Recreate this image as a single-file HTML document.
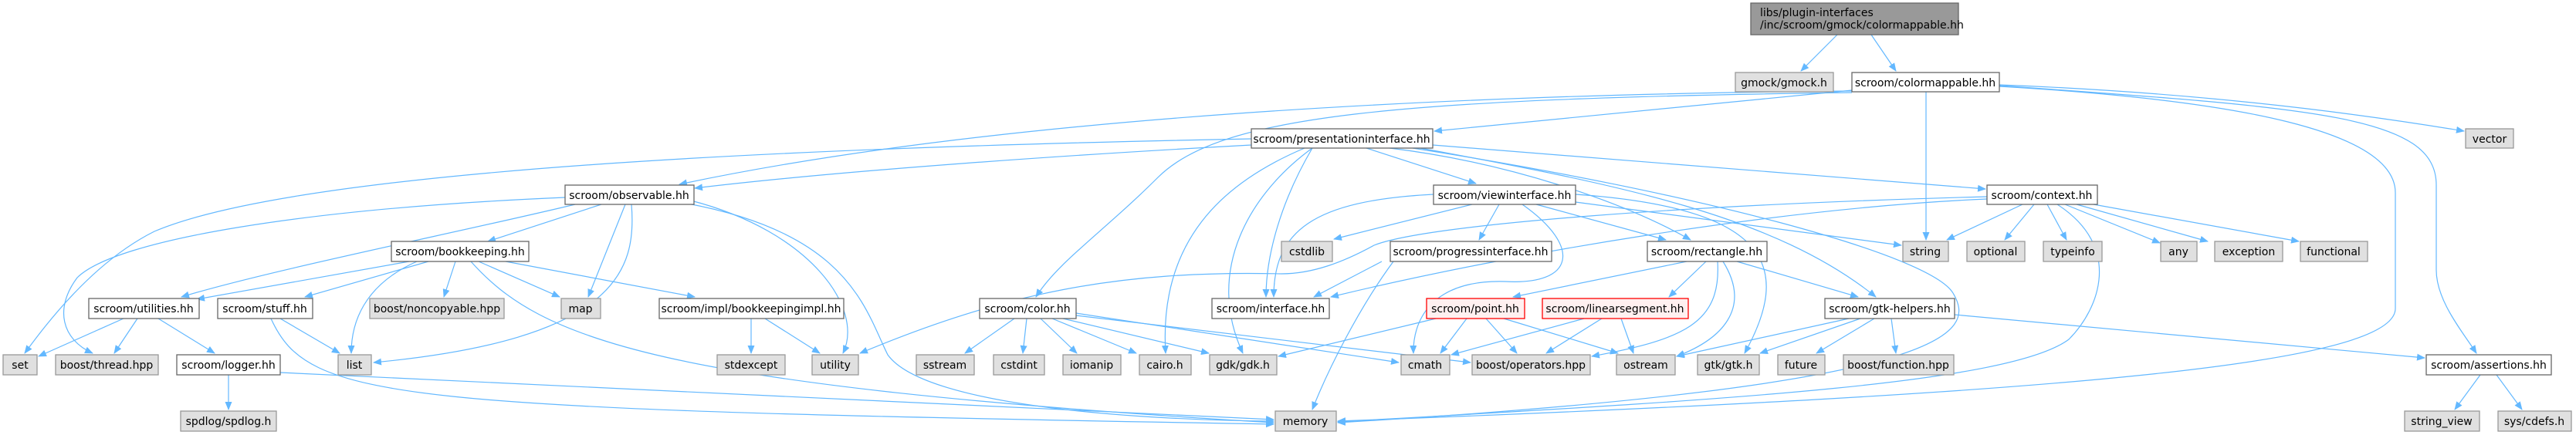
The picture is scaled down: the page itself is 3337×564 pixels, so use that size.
<!DOCTYPE html>
<html><head><meta charset="utf-8"><style>
html,body{margin:0;padding:0;background:#fff;}
svg{display:block;}
text{font-family:"DejaVu Sans","Liberation Sans",sans-serif;font-size:14px;fill:#000;}
.e{fill:none;stroke:#63b8ff;stroke-width:1.2;}
.w{fill:#fff;stroke:#666;stroke-width:1.3;}
.g{fill:#e0e0e0;stroke:#999;stroke-width:1.3;}
.r{fill:#fff0f0;stroke:#f00;stroke-width:1.3;}
</style></head><body>
<svg width="3337" height="564" viewBox="0 0 3337 564" xmlns="http://www.w3.org/2000/svg">
<defs><marker id="a" markerUnits="userSpaceOnUse" markerWidth="11" markerHeight="9" refX="10" refY="4.5" orient="auto"><path d="M0,0 L11,4.5 L0,9 z" fill="#63b8ff"/></marker></defs>
<g class="e" marker-end="url(#a)">
<path d="M2380,45 L2333,92"/>
<path d="M2424,45 L2456,92"/>
<path d="M2399,117 L1858,170"/>
<path d="M2399,118 C1900,122 1300,150 880,239"/>
<path d="M2399,120 C1800,128 1580,150 1500,230 C1430,300 1370,340 1342,385"/>
<path d="M2495,119 L2495,311"/>
<path d="M2590,110 C2800,118 3000,138 3192,170"/>
<path d="M2590,111 C3000,140 3156,150 3156,240 L3156,350 C3156,390 3190,430 3208,458"/>
<path d="M2590,112 C2900,130 3103,170 3103,250 L3103,400 C3103,470 2700,510 1733,546"/>
<path d="M1621,180 C1100,190 400,215 200,300 C120,340 60,420 32,458"/>
<path d="M1621,188 C1400,200 1100,220 900,244"/>
<path d="M1770,192 L1912,238"/>
<path d="M1700,192 C1660,260 1640,330 1640,385"/>
<path d="M1690,192 C1600,230 1500,300 1510,458"/>
<path d="M1700,192 C1620,250 1560,350 1610,458"/>
<path d="M1800,192 C1950,210 2100,260 2190,311"/>
<path d="M1856,188 L2572,245"/>
<path d="M1840,192 C2100,240 2300,280 2430,385"/>
<path d="M1830,192 C2200,250 2500,330 2530,380 C2560,430 2540,500 1733,548"/>
<path d="M1907,265 L1728,310"/>
<path d="M1942,265 L1916,311"/>
<path d="M1990,265 L2158,311"/>
<path d="M2041,262 L2463,318"/>
<path d="M1857,252 C1700,260 1650,300 1650,385"/>
<path d="M1972,265 C2050,320 2040,370 1950,365 C1850,362 1830,420 1831,458"/>
<path d="M2041,252 C2300,270 2320,350 2260,458"/>
<path d="M1790,339 L1702,385"/>
<path d="M1805,339 C1760,400 1720,480 1700,531"/>
<path d="M2185,339 L1960,385"/>
<path d="M2210,339 L2162,385"/>
<path d="M2250,339 L2407,385"/>
<path d="M2225,339 C2230,420 2180,440 2062,462"/>
<path d="M2232,339 C2270,400 2230,440 2172,462"/>
<path d="M1900,413 L1866,458"/>
<path d="M1925,413 L1965,458"/>
<path d="M1948,413 L2096,458"/>
<path d="M1860,413 L1656,462"/>
<path d="M2052,413 L1880,460"/>
<path d="M2075,413 L2003,458"/>
<path d="M2100,413 L2116,458"/>
<path d="M2395,413 L2172,462"/>
<path d="M2410,413 L2280,458"/>
<path d="M2428,413 L2353,458"/>
<path d="M2450,413 L2456,458"/>
<path d="M2532,408 L3141,464"/>
<path d="M3213,486 L3180,531"/>
<path d="M3234,486 L3267,531"/>
<path d="M2620,265 L2522,311"/>
<path d="M2635,265 L2597,311"/>
<path d="M2652,265 L2677,311"/>
<path d="M2675,265 L2798,315"/>
<path d="M2690,265 L2860,313"/>
<path d="M2712,265 L2978,313"/>
<path d="M2574,258 C2300,270 1950,330 1724,385"/>
<path d="M2574,255 C2200,265 1850,290 1780,318 C1740,340 1700,355 1660,355 C1450,350 1300,380 1114,458"/>
<path d="M2665,265 C2750,320 2720,400 2680,440 C2600,500 2200,520 1733,547"/>
<path d="M1314,413 L1250,458"/>
<path d="M1330,413 L1325,458"/>
<path d="M1348,413 L1395,458"/>
<path d="M1363,413 L1472,458"/>
<path d="M1377,413 L1566,458"/>
<path d="M1394,406 L1812,470"/>
<path d="M1394,409 L1905,470"/>
<path d="M779,265 L632,313"/>
<path d="M745,265 C600,300 350,350 235,385"/>
<path d="M732,256 C400,270 150,310 100,360 C70,400 80,440 120,458"/>
<path d="M810,265 L762,385"/>
<path d="M818,265 C825,350 800,440 484,470"/>
<path d="M880,262 C1100,300 1120,400 1150,460 C1200,530 1500,545 1650,546"/>
<path d="M895,260 C1050,300 1120,400 1092,458"/>
<path d="M530,339 L255,388"/>
<path d="M555,339 L395,385"/>
<path d="M590,339 L575,385"/>
<path d="M620,339 L725,385"/>
<path d="M540,339 C470,370 455,420 455,458"/>
<path d="M610,339 C700,440 850,500 1650,548"/>
<path d="M655,339 L900,385"/>
<path d="M973,413 L973,458"/>
<path d="M991,413 L1062,458"/>
<path d="M160,413 L50,462"/>
<path d="M178,413 L148,458"/>
<path d="M205,413 L278,458"/>
<path d="M363,413 L440,458"/>
<path d="M351,413 C400,520 500,530 1650,550"/>
<path d="M296,486 L296,531"/>
<path d="M363,483 L1650,544"/>
</g>

<rect x="2268" y="4" width="269" height="41" fill="#999" stroke="#666" stroke-width="1.3"/>
<text x="2280" y="21">libs/plugin-interfaces</text>
<text x="2280" y="37">/inc/scroom/gmock/colormappable.hh</text>

<g>
<rect class="g" x="2248" y="94" width="127" height="25"/><text x="2311" y="112" text-anchor="middle">gmock/gmock.h</text>
<rect class="w" x="2399" y="94" width="191" height="25"/><text x="2494" y="112" text-anchor="middle">scroom/colormappable.hh</text>
<rect class="w" x="1621" y="167" width="235" height="25"/><text x="1738" y="185" text-anchor="middle">scroom/presentationinterface.hh</text>
<rect class="g" x="3194" y="167" width="62" height="25"/><text x="3225" y="185" text-anchor="middle">vector</text>
<rect class="w" x="732" y="240" width="167" height="25"/><text x="815" y="258" text-anchor="middle">scroom/observable.hh</text>
<rect class="w" x="1857" y="240" width="184" height="25"/><text x="1949" y="258" text-anchor="middle">scroom/viewinterface.hh</text>
<rect class="w" x="2574" y="240" width="143" height="25"/><text x="2645" y="258" text-anchor="middle">scroom/context.hh</text>
<rect class="w" x="507" y="313" width="178" height="26"/><text x="596" y="331" text-anchor="middle">scroom/bookkeeping.hh</text>
<rect class="g" x="1660" y="313" width="66" height="26"/><text x="1693" y="331" text-anchor="middle">cstdlib</text>
<rect class="w" x="1801" y="313" width="209" height="26"/><text x="1905" y="331" text-anchor="middle">scroom/progressinterface.hh</text>
<rect class="w" x="2134" y="313" width="155" height="26"/><text x="2211" y="331" text-anchor="middle">scroom/rectangle.hh</text>
<rect class="g" x="2465" y="313" width="59" height="26"/><text x="2494" y="331" text-anchor="middle">string</text>
<rect class="g" x="2548" y="313" width="75" height="26"/><text x="2585" y="331" text-anchor="middle">optional</text>
<rect class="g" x="2647" y="313" width="76" height="26"/><text x="2685" y="331" text-anchor="middle">typeinfo</text>
<rect class="g" x="2799" y="313" width="47" height="26"/><text x="2822" y="331" text-anchor="middle">any</text>
<rect class="g" x="2869" y="313" width="88" height="26"/><text x="2913" y="331" text-anchor="middle">exception</text>
<rect class="g" x="2980" y="313" width="87" height="26"/><text x="3023" y="331" text-anchor="middle">functional</text>
<rect class="w" x="115" y="387" width="143" height="26"/><text x="186" y="405" text-anchor="middle">scroom/utilities.hh</text>
<rect class="w" x="282" y="387" width="123" height="26"/><text x="343" y="405" text-anchor="middle">scroom/stuff.hh</text>
<rect class="g" x="479" y="387" width="174" height="26"/><text x="566" y="405" text-anchor="middle">boost/noncopyable.hpp</text>
<rect class="g" x="727" y="387" width="51" height="26"/><text x="752" y="405" text-anchor="middle">map</text>
<rect class="w" x="854" y="387" width="239" height="26"/><text x="973" y="405" text-anchor="middle">scroom/impl/bookkeepingimpl.hh</text>
<rect class="w" x="1269" y="387" width="125" height="26"/><text x="1331" y="405" text-anchor="middle">scroom/color.hh</text>
<rect class="w" x="1570" y="387" width="152" height="26"/><text x="1646" y="405" text-anchor="middle">scroom/interface.hh</text>
<rect class="r" x="1848" y="387" width="127" height="26"/><text x="1911" y="405" text-anchor="middle">scroom/point.hh</text>
<rect class="r" x="1998" y="387" width="189" height="26"/><text x="2092" y="405" text-anchor="middle">scroom/linearsegment.hh</text>
<rect class="w" x="2364" y="387" width="168" height="26"/><text x="2448" y="405" text-anchor="middle">scroom/gtk-helpers.hh</text>
<rect class="g" x="4" y="460" width="44" height="26"/><text x="26" y="478" text-anchor="middle">set</text>
<rect class="g" x="72" y="460" width="133" height="26"/><text x="138" y="478" text-anchor="middle">boost/thread.hpp</text>
<rect class="w" x="229" y="460" width="134" height="26"/><text x="296" y="478" text-anchor="middle">scroom/logger.hh</text>
<rect class="g" x="438" y="460" width="43" height="26"/><text x="459" y="478" text-anchor="middle">list</text>
<rect class="g" x="929" y="460" width="88" height="26"/><text x="973" y="478" text-anchor="middle">stdexcept</text>
<rect class="g" x="1052" y="460" width="60" height="26"/><text x="1082" y="478" text-anchor="middle">utility</text>
<rect class="g" x="1187" y="460" width="75" height="26"/><text x="1224" y="478" text-anchor="middle">sstream</text>
<rect class="g" x="1287" y="460" width="66" height="26"/><text x="1320" y="478" text-anchor="middle">cstdint</text>
<rect class="g" x="1377" y="460" width="75" height="26"/><text x="1414" y="478" text-anchor="middle">iomanip</text>
<rect class="g" x="1476" y="460" width="67" height="26"/><text x="1509" y="478" text-anchor="middle">cairo.h</text>
<rect class="g" x="1567" y="460" width="87" height="26"/><text x="1610" y="478" text-anchor="middle">gdk/gdk.h</text>
<rect class="g" x="1815" y="460" width="63" height="26"/><text x="1846" y="478" text-anchor="middle">cmath</text>
<rect class="g" x="1907" y="460" width="153" height="26"/><text x="1983" y="478" text-anchor="middle">boost/operators.hpp</text>
<rect class="g" x="2094" y="460" width="76" height="26"/><text x="2132" y="478" text-anchor="middle">ostream</text>
<rect class="g" x="2199" y="460" width="80" height="26"/><text x="2239" y="478" text-anchor="middle">gtk/gtk.h</text>
<rect class="g" x="2303" y="460" width="61" height="26"/><text x="2333" y="478" text-anchor="middle">future</text>
<rect class="g" x="2388" y="460" width="143" height="26"/><text x="2459" y="478" text-anchor="middle">boost/function.hpp</text>
<rect class="w" x="3143" y="460" width="162" height="26"/><text x="3224" y="478" text-anchor="middle">scroom/assertions.hh</text>
<rect class="g" x="234" y="533" width="124" height="26"/><text x="296" y="551" text-anchor="middle">spdlog/spdlog.h</text>
<rect class="g" x="1652" y="533" width="79" height="26"/><text x="1691" y="551" text-anchor="middle">memory</text>
<rect class="g" x="3115" y="533" width="97" height="26"/><text x="3163" y="551" text-anchor="middle">string_view</text>
<rect class="g" x="3236" y="533" width="95" height="26"/><text x="3283" y="551" text-anchor="middle">sys/cdefs.h</text>
</g>
</svg>
</body></html>
